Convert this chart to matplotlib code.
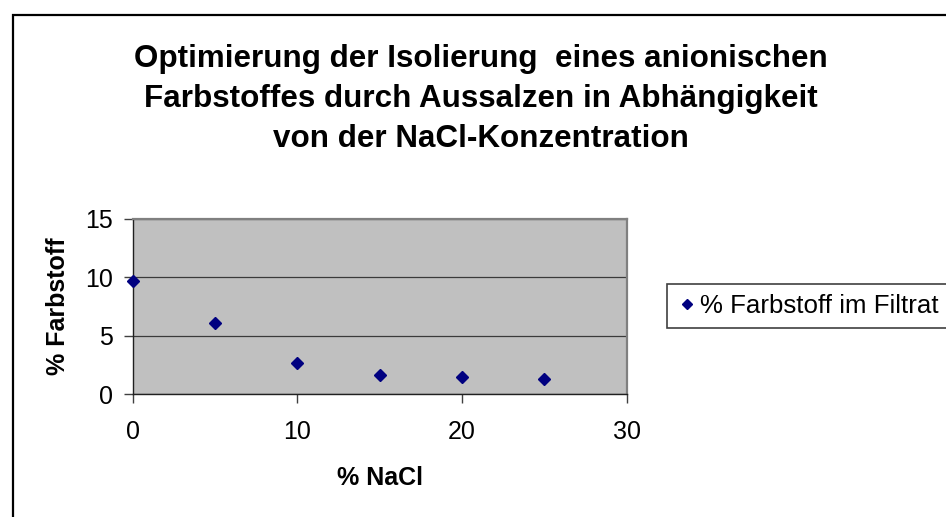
import matplotlib
matplotlib.use("Agg")
import matplotlib.pyplot as plt
from matplotlib.patches import Rectangle

plt.rcParams["font.family"] = ["Liberation Sans", "DejaVu Sans"]

# Aussalzen: Farbstoffanteil im Filtrat je NaCl-Konzentration
nacl = [0, 5, 10, 15, 20, 25]
farbstoff = [9.7, 6.1, 2.7, 1.65, 1.5, 1.3]
x_ticks = [0, 10, 20, 30]
y_ticks = [0, 5, 10, 15]

TITLE = ("Optimierung der Isolierung  eines anionischen\n"
         "Farbstoffes durch Aussalzen in Abhängigkeit\n"
         "von der NaCl-Konzentration")
C_MARK = "#000080"
C_PLOT = "#c0c0c0"

W, H = 946, 517
fig = plt.figure(figsize=(W / 100, H / 100), dpi=100)
fig.patch.set_facecolor("white")

# Diagrammrahmen (rechts/unten abgeschnitten)
fig.add_artist(Rectangle((12.5 / W, -0.2), 1.5, 1.2 - 14.5 / H,
                         transform=fig.transFigure, fill=False,
                         edgecolor="black", lw=1.6))

ax = fig.add_axes([132.7 / W, 1 - 394.3 / H, 494 / W, 175.3 / H])
ax.set_facecolor(C_PLOT)
ax.plot(nacl, farbstoff, ls="none", marker="D", ms=6.5, color=C_MARK,
        mec=C_MARK, clip_on=False, zorder=4, label="% Farbstoff im Filtrat")

ax.set_xlim(0, 30)
ax.set_ylim(0, 15)
ax.set_xticks(x_ticks)
ax.set_yticks(y_ticks)
ax.grid(axis="y", color="#3a3a3a", lw=0.9, zorder=1)
ax.set_axisbelow(True)

for s in ("left", "bottom"):
    ax.spines[s].set_color("#202020")
    ax.spines[s].set_linewidth(1.0)
for s in ("top", "right"):
    ax.spines[s].set_color("#808080")
    ax.spines[s].set_linewidth(1.6)

ax.tick_params(axis="both", direction="out", length=6.5, width=1.0,
               color="#404040", labelsize=18)
ax.tick_params(axis="y", pad=8)
ax.tick_params(axis="x", pad=12)

ax.set_xlabel("% NaCl", fontsize=18, fontweight="bold", va="center")
ax.xaxis.set_label_coords(0.5, -0.477)
ax.set_ylabel("% Farbstoff", fontsize=18, fontweight="bold", va="center")
ax.yaxis.set_label_coords(-0.151, 0.5)

fig.text(481 / W, 1 - 99 / H, TITLE, ha="center", va="center",
         fontsize=22.6, fontweight="bold", linespacing=1.42)

leg = fig.legend(loc="upper left", bbox_to_anchor=(666.7 / W, 1 - 284.3 / H),
                 borderaxespad=0, fontsize=18.6, frameon=True, fancybox=False,
                 edgecolor="#404040", framealpha=1, borderpad=0.38,
                 handlelength=0.8, handletextpad=0.12, markerscale=0.75,
                 numpoints=1)
leg.get_frame().set_linewidth(1.2)

fig.savefig("out.png", dpi=100, facecolor="white")
